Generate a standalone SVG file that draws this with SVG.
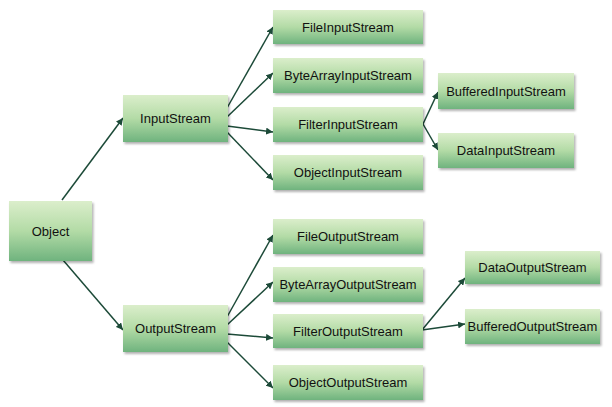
<svg xmlns="http://www.w3.org/2000/svg" width="612" height="407" viewBox="0 0 612 407">
<defs>
<linearGradient id="g" x1="0" y1="0" x2="0" y2="1">
<stop offset="0" stop-color="#dbeecb"/>
<stop offset="0.5" stop-color="#b3dba6"/>
<stop offset="1" stop-color="#6fb37e"/>
</linearGradient>
<filter id="sh" x="-10%" y="-10%" width="130%" height="140%">
<feDropShadow dx="1.5" dy="2" stdDeviation="1.2" flood-color="#000" flood-opacity="0.3"/>
</filter>
<marker id="ah" viewBox="0 0 10 10" refX="10" refY="5" markerWidth="7" markerHeight="7" markerUnits="userSpaceOnUse" orient="auto">
<path d="M0,0 L10,5 L0,10 z" fill="#1c4a38"/>
</marker>
</defs>
<style>
rect{fill:url(#g);filter:url(#sh)}
text{font-family:"Liberation Sans",Arial,sans-serif;font-size:13px;fill:#111;text-anchor:middle;dominant-baseline:central}
#connectors line{stroke:#1c4a38;stroke-width:1.5;marker-end:url(#ah)}
</style>
<rect width="612" height="407" fill="#fff" style="fill:#fff;filter:none"/>
<g id="connectors">
<line x1="62" y1="200" x2="123" y2="118"/>
<line x1="63" y1="260" x2="123" y2="330"/>
<line x1="227" y1="108" x2="273" y2="27"/>
<line x1="227" y1="117" x2="273" y2="73"/>
<line x1="227" y1="126" x2="273" y2="132"/>
<line x1="227" y1="132" x2="273" y2="180"/>
<line x1="227" y1="317" x2="273" y2="235"/>
<line x1="227" y1="325" x2="273" y2="282"/>
<line x1="227" y1="334" x2="273" y2="338"/>
<line x1="227" y1="342" x2="273" y2="388"/>
<line x1="423" y1="124" x2="438" y2="92"/>
<line x1="423" y1="124" x2="438" y2="150"/>
<line x1="422" y1="330" x2="465" y2="278"/>
<line x1="422" y1="330" x2="465" y2="324"/>
</g>
<g id="Object"><rect x="9" y="201" width="83" height="60"/><text x="50.5" y="231">Object</text></g>
<g id="InputStream"><rect x="123" y="95" width="105" height="47"/><text x="175.5" y="118.5">InputStream</text></g>
<g id="OutputStream"><rect x="123" y="305" width="105" height="47"/><text x="175.5" y="328.5">OutputStream</text></g>
<g id="FileInputStream"><rect x="273" y="10" width="150" height="34"/><text x="348" y="27">FileInputStream</text></g>
<g id="ByteArrayInputStream"><rect x="273" y="58" width="150" height="35"/><text x="348" y="75.5">ByteArrayInputStream</text></g>
<g id="FilterInputStream"><rect x="273" y="107" width="150" height="35"/><text x="348" y="124.5">FilterInputStream</text></g>
<g id="ObjectInputStream"><rect x="273" y="155" width="150" height="35"/><text x="348" y="172.5">ObjectInputStream</text></g>
<g id="FileOutputStream"><rect x="273" y="219" width="150" height="35"/><text x="348" y="236.5">FileOutputStream</text></g>
<g id="ByteArrayOutputStream"><rect x="273" y="267" width="150" height="35"/><text x="348" y="284.5" textLength="137" lengthAdjust="spacingAndGlyphs">ByteArrayOutputStream</text></g>
<g id="FilterOutputStream"><rect x="273" y="314" width="150" height="34"/><text x="348" y="331">FilterOutputStream</text></g>
<g id="ObjectOutputStream"><rect x="273" y="365" width="150" height="35"/><text x="348" y="382.5">ObjectOutputStream</text></g>
<g id="BufferedInputStream"><rect x="438" y="73" width="136" height="36"/><text x="506" y="91">BufferedInputStream</text></g>
<g id="DataInputStream"><rect x="438" y="133" width="136" height="35"/><text x="506" y="150.5">DataInputStream</text></g>
<g id="DataOutputStream"><rect x="465" y="251" width="135" height="33"/><text x="532.5" y="267.5">DataOutputStream</text></g>
<g id="BufferedOutputStream"><rect x="465" y="309" width="135" height="35"/><text x="532.5" y="326.5">BufferedOutputStream</text></g>
</svg>
